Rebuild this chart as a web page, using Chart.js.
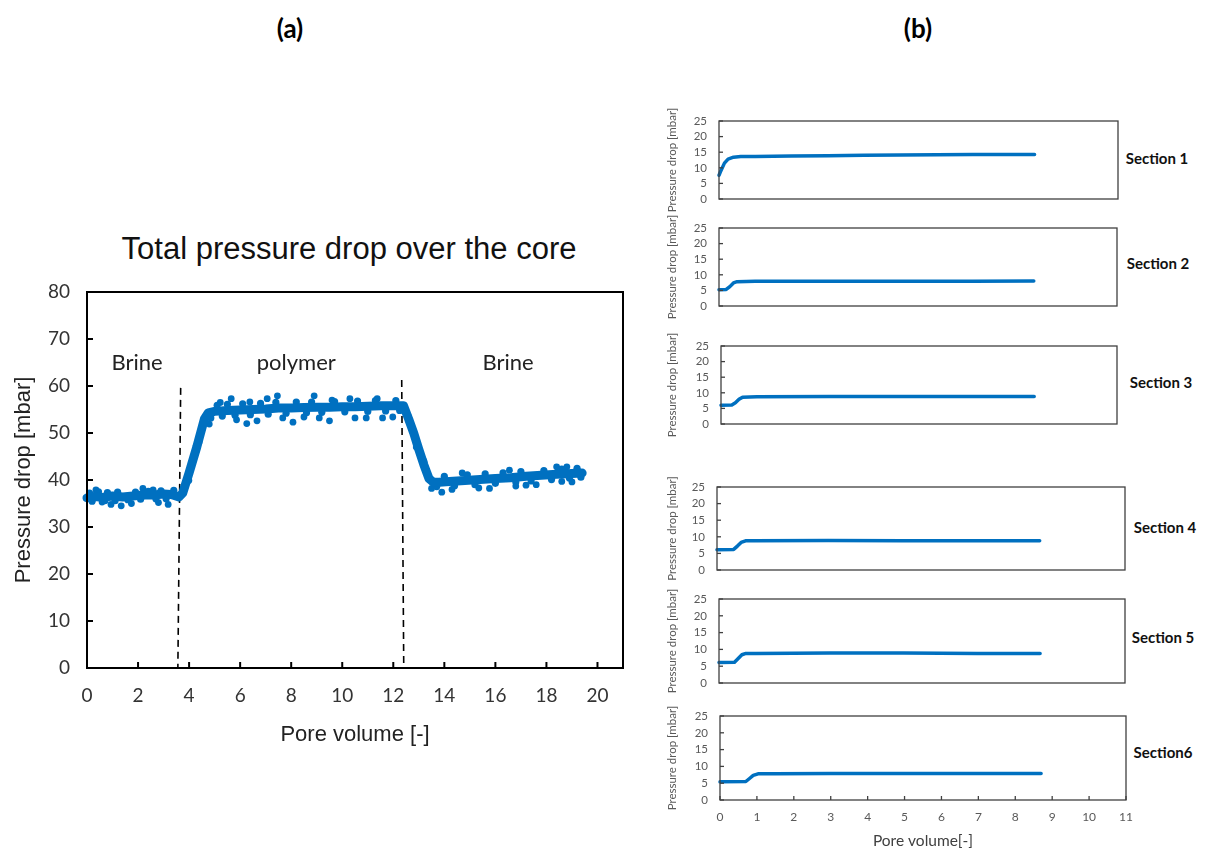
<!DOCTYPE html>
<html><head><meta charset="utf-8">
<script src="https://cdn.jsdelivr.net/npm/chart.js@4.4.1/dist/chart.umd.min.js"></script>
<style>
body{margin:0;background:#fff;width:1206px;height:850px;position:relative;overflow:hidden;font-family:Lato,sans-serif}
canvas{position:absolute}
.lbl{position:absolute;color:#000;white-space:nowrap;transform:translate(-50%,-50%);line-height:1}
.sec{font-size:15px;font-weight:bold;color:#111}
</style></head><body>
<div class="lbl" style="left:290px;top:28px;font-size:26px;font-weight:bold">(a)</div>
<div class="lbl" style="left:918px;top:28px;font-size:26px;font-weight:bold">(b)</div>
<div class="lbl" style="left:349px;top:248px;font-size:31px;font-family:'Liberation Sans',Arial,sans-serif;color:#111">Total pressure drop over the core</div>
<div class="lbl sec" style="left:1157px;top:158px">Section 1</div>
<div class="lbl sec" style="left:1158px;top:263px">Section 2</div>
<div class="lbl sec" style="left:1161px;top:382px">Section 3</div>
<div class="lbl sec" style="left:1165px;top:527px">Section 4</div>
<div class="lbl sec" style="left:1163px;top:637px">Section 5</div>
<div class="lbl sec" style="left:1163px;top:752px">Section6</div>
<canvas id="main"></canvas>
<canvas id="c1"></canvas><canvas id="c2"></canvas><canvas id="c3"></canvas>
<canvas id="c4"></canvas><canvas id="c5"></canvas><canvas id="c6"></canvas>
<script>
// ---------- DATA: panel (a) total pressure drop ----------
const mainTicksX = [0,2,4,6,8,10,12,14,16,18,20];
const mainTicksY = [0,10,20,30,40,50,60,70,80];
const trendPV = [0,0.3,0.6,1.0,1.4,1.8,2.2,2.6,3.0,3.3,3.6,3.75,4.0,4.3,4.6,4.75,5.0,5.5,6.0,6.5,7.0,7.5,8.0,8.5,9.0,9.5,10.0,10.5,11.0,11.5,12.0,12.4,12.6,12.8,13.0,13.2,13.4,13.55,13.8,14.2,14.8,15.4,16.0,16.6,17.2,17.8,18.4,19.0,19.4];
const trendDP = [36.2,36.5,36.3,36.6,36.4,36.6,36.8,36.8,37.0,36.9,36.4,37.2,41.5,47.0,53.0,54.3,54.6,54.8,54.9,55.0,55.1,55.3,55.3,55.4,55.5,55.5,55.6,55.6,55.7,55.8,55.8,55.8,53.0,50.0,46.5,43.2,40.3,39.6,39.5,39.7,39.9,40.1,40.3,40.5,40.8,41.0,41.2,41.4,41.5];
const fuzzPV = [0.1,0.2,0.45,0.7,0.8,1.1,1.2,1.6,1.9,2.1,2.4,2.7,2.9,3.1,3.4,
  4.85,5.1,5.3,5.5,5.8,6.1,6.4,6.8,7.1,7.4,7.8,8.2,8.6,8.8,9.2,9.7,10.1,10.6,11.0,11.3,11.7,12.1,12.25,
  13.7,14.0,14.4,14.9,15.2,15.6,16.0,16.3,16.8,17.0,17.4,17.9,18.2,18.6,18.9,19.2,19.35];
const fuzzDP = [37.2,35.5,37.5,35.6,37.3,35.6,37.4,35.8,37.4,35.9,37.6,36.0,37.7,36.0,37.8,
  53.2,55.9,53.6,56.1,53.8,56.2,53.9,56.3,54.0,56.5,54.2,56.6,54.3,56.6,54.4,56.7,54.5,56.8,54.6,56.9,54.7,56.9,54.8,
  38.6,40.8,38.8,41.1,39.0,41.3,39.3,41.5,39.6,41.8,39.8,42.0,40.1,42.3,40.4,42.5,40.6];
const outlierPV = [0.35,0.59,0.94,1.34,1.74,2.19,2.59,2.8,3.18,
  3.99,4.39,4.79,5.22,5.65,5.86,6.26,6.38,6.66,7.06,7.46,7.67,8.07,8.5,8.9,9.1,9.5,9.6,10.3,10.5,10.94,11.37,11.58,11.98,
  12.6,12.9,13.2,13.5,13.9,14.3,14.7,15.35,15.77,16.55,16.8,17.2,17.6,18.4,18.6,18.8,19.0,19.2];
const outlierDP = [37.9,35.3,34.8,34.5,35.0,38.2,37.9,35.2,34.8,
  39.9,48.1,51.9,56.5,57.3,52.8,52.0,56.6,52.6,57.3,57.9,53.2,52.3,53.4,57.9,53.2,52.6,57.0,57.3,53.2,53.2,57.3,53.2,53.4,
  53.4,47.0,44.0,38.2,37.4,38.0,41.5,38.3,38.2,42.1,38.7,38.9,39.0,42.8,39.7,42.8,39.6,42.2];
// phase boundaries (pore volume at top/bottom, pressure at top)
const boundaryPV = [[3.67,3.56],[12.33,12.41]];
const boundaryTop = [59.6,61.3];
const phaseNames = ['Brine','polymer','Brine'];
const phasePV = [1.96,8.2,16.5];
const phaseDP = [65];

// ---------- DATA: panel (b) sections ----------
const secTicksX = [0,1,2,3,4,5,6,7,8,9,10,11];
const secTicksY = [0,5,10,15,20,25];
const s1PV = [0,0.05,0.15,0.25,0.4,0.6,1,2,3,4,5,6,7,8,8.7];
const s1DP = [7.6,9.0,11.5,12.8,13.4,13.6,13.6,13.8,13.9,14.0,14.1,14.2,14.3,14.3,14.3];
const s2PV = [0,0.2,0.3,0.4,0.5,1,3,5,7,8.7];
const s2DP = [5.2,5.3,6.2,7.4,7.8,7.9,7.9,7.9,7.9,8.0];
const s3PV = [0,0.3,0.4,0.5,0.6,1,3,5,7,8.7];
const s3DP = [6.0,6.1,6.8,7.9,8.6,8.7,8.8,8.8,8.8,8.8];
const s4PV = [0,0.45,0.55,0.65,0.77,1,3,5,7,8.7];
const s4DP = [6.1,6.2,7.2,8.3,8.8,8.8,8.9,8.8,8.8,8.8];
const s5PV = [0,0.42,0.52,0.62,0.73,1,3,5,7,8.7];
const s5DP = [6.1,6.2,7.3,8.4,8.8,8.8,8.9,8.9,8.8,8.8];
const s6PV = [0,0.7,0.8,0.9,1.03,1.5,3,5,7,8.7];
const s6DP = [5.4,5.5,6.4,7.3,7.8,7.8,7.9,7.9,7.9,7.9];

// ---------- helpers ----------
const BLUE = '#0070C0';
const pts = (xs, ys) => xs.map((x, i) => ({x, y: ys[i]}));

const boxPlugin = {
  id: 'box',
  afterDraw(chart, args, o) {
    const a = chart.chartArea, ctx = chart.ctx;
    ctx.save();
    ctx.strokeStyle = o.color; ctx.lineWidth = o.width;
    ctx.strokeRect(a.left, a.top, a.right - a.left, a.bottom - a.top);
    const len = o.tick;
    if (o.xTicks) {
      chart.scales.x.ticks.forEach(t => {
        const px = chart.scales.x.getPixelForValue(t.value);
        ctx.beginPath(); ctx.moveTo(px, a.bottom); ctx.lineTo(px, a.bottom - len); ctx.stroke();
      });
    }
    chart.scales.y.ticks.forEach(t => {
      const py = chart.scales.y.getPixelForValue(t.value);
      ctx.beginPath(); ctx.moveTo(a.left, py); ctx.lineTo(a.left + len, py); ctx.stroke();
    });
    ctx.restore();
  }
};

const phasePlugin = {
  id: 'phases',
  afterDatasetsDraw(chart) {
    if (chart.canvas.id !== 'main') return;
    const ctx = chart.ctx, sx = chart.scales.x, sy = chart.scales.y;
    ctx.save();
    ctx.font = '22px Lato, sans-serif';
    ctx.fillStyle = '#222';
    ctx.textAlign = 'center'; ctx.textBaseline = 'middle';
    phaseNames.forEach((n, i) => ctx.fillText(n, sx.getPixelForValue(phasePV[i]), sy.getPixelForValue(phaseDP[0])));
    ctx.restore();
  }
};
Chart.register(boxPlugin, phasePlugin);

// ---------- main chart ----------
(function () {
  const cv = document.getElementById('main');
  cv.width = 640; cv.height = 500;
  cv.style.left = '0px'; cv.style.top = '260px';
  const datasets = [
    {data: pts(trendPV, trendDP), showLine: true, borderColor: BLUE, borderWidth: 9, pointRadius: 0,
     borderJoinStyle: 'round', borderCapStyle: 'round', clip: 8},
    {data: pts(fuzzPV, fuzzDP), pointRadius: 3.6, backgroundColor: BLUE, borderWidth: 0, clip: 8},
    {data: pts(outlierPV, outlierDP), pointRadius: 3.4, backgroundColor: BLUE, borderWidth: 0, clip: 8}
  ];
  boundaryPV.forEach((b, i) => datasets.push({
    data: [{x: b[0], y: boundaryTop[i]}, {x: b[1], y: 0}], showLine: true, borderColor: '#000',
    borderWidth: 1.6, borderDash: [7, 5], pointRadius: 0
  }));
  new Chart(cv, {
    type: 'scatter',
    data: {datasets},
    options: {
      responsive: false, animation: false, devicePixelRatio: 1,
      layout: {padding: {top: 32, right: 17, left: 0, bottom: 0}},
      plugins: {legend: {display: false}, tooltip: {enabled: false},
        box: {color: '#000', width: 2, tick: 6, xTicks: true}},
      scales: {
        x: {type: 'linear', min: 0, max: 21,
          afterBuildTicks: s => { s.ticks = mainTicksX.map(v => ({value: v})); },
          afterFit: s => { s.height = 92; },
          grid: {display: false, drawTicks: false}, border: {display: false},
          ticks: {padding: 16, color: '#333', font: {family: 'Lato', size: 19}, maxRotation: 0, autoSkip: false},
          title: {display: true, text: 'Pore volume [-]', color: '#222',
            font: {family: 'Liberation Sans', size: 22}, padding: {top: 0, bottom: 12}}
        },
        y: {type: 'linear', min: 0, max: 80,
          afterBuildTicks: s => { s.ticks = mainTicksY.map(v => ({value: v})); },
          afterFit: s => { s.width = 87; },
          grid: {display: false, drawTicks: false}, border: {display: false},
          ticks: {padding: 17, color: '#333', font: {family: 'Lato', size: 19}, autoSkip: false},
          title: {display: true, text: 'Pressure drop [mbar]', color: '#222',
            font: {family: 'Liberation Sans', size: 22}, padding: {top: 11, bottom: 0}}
        }
      }
    }
  });
})();

// ---------- section charts ----------
const secBoxes = [[719,121,1118,199],[719,228,1117,306],[721,346,1117,424],[717,487,1125,570],[719,599,1125,683],[720,716,1126,800]];
const secData = [[s1PV,s1DP],[s2PV,s2DP],[s3PV,s3DP],[s4PV,s4DP],[s5PV,s5DP],[s6PV,s6DP]];
secBoxes.forEach((g, i) => {
  const [L, T, R, B] = g;
  const showX = i === 5;
  const padTop = 30, padRight = 20, bottom = showX ? 50 : 30;
  const cv = document.getElementById('c' + (i + 1));
  cv.width = R + padRight - 640; cv.height = (B - T) + padTop + bottom;
  cv.style.left = '640px'; cv.style.top = (T - padTop) + 'px';
  new Chart(cv, {
    type: 'scatter',
    data: {datasets: [{data: pts(secData[i][0], secData[i][1]), showLine: true, borderColor: BLUE,
      borderWidth: 3.5, pointRadius: 0, borderJoinStyle: 'round', borderCapStyle: 'round', clip: 4}]},
    options: {
      responsive: false, animation: false, devicePixelRatio: 1,
      layout: {padding: {top: padTop, right: padRight, left: 0, bottom: 0}},
      plugins: {legend: {display: false}, tooltip: {enabled: false},
        box: {color: '#404040', width: 1.3, tick: 4, xTicks: showX}},
      scales: {
        x: {type: 'linear', min: 0, max: 11,
          afterBuildTicks: s => { s.ticks = secTicksX.map(v => ({value: v})); },
          afterFit: s => { s.height = bottom; },
          grid: {display: false, drawTicks: false}, border: {display: false},
          ticks: {display: showX, padding: 10, color: '#595959', font: {family: 'Lato', size: 12}, maxRotation: 0, autoSkip: false},
          title: {display: showX, text: 'Pore volume[-]', color: '#404040',
            font: {family: 'Lato', size: 15.5}, padding: {top: 0, bottom: 0}}
        },
        y: {type: 'linear', min: 0, max: 25,
          afterBuildTicks: s => { s.ticks = secTicksY.map(v => ({value: v})); },
          afterFit: s => { s.width = L - 640; },
          grid: {display: false, drawTicks: false}, border: {display: false},
          ticks: {padding: 12, color: '#595959', font: {family: 'Lato', size: 11.5}, autoSkip: false},
          title: {display: true, text: 'Pressure drop [mbar]', color: '#595959',
            font: {family: 'Lato', size: 11.5}, padding: {top: 25, bottom: 0}}
        }
      }
    }
  });
});
</script>
</body></html>
